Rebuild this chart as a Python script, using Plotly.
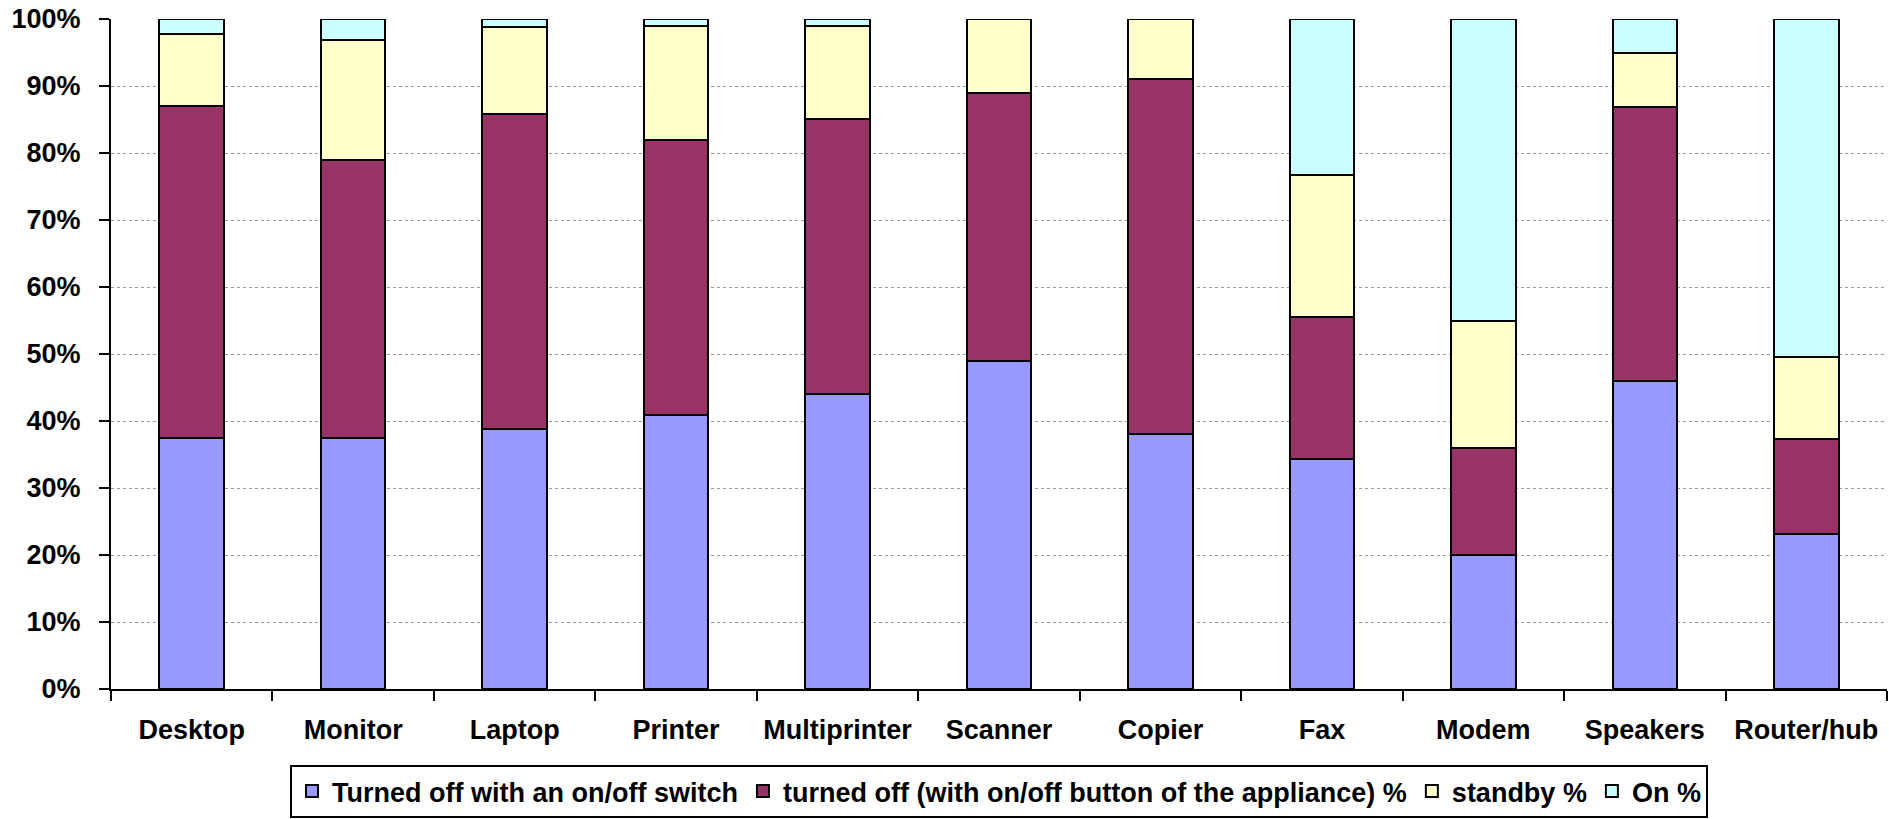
import plotly.graph_objects as go

categories = ["Desktop", "Monitor", "Laptop", "Printer", "Multiprinter", "Scanner",
              "Copier", "Fax", "Modem", "Speakers", "Router/hub"]
switch_off = [37.5, 37.5, 38.8, 40.9, 44.1, 49.0, 38.1, 34.4, 20.0, 45.9, 23.2]
button_off = [49.5, 41.5, 47.0, 41.0, 41.0, 40.0, 53.0, 21.1, 16.0, 41.0, 14.1]
standby = [10.8, 17.9, 13.0, 17.0, 13.8, 11.0, 8.9, 21.2, 19.0, 8.1, 12.2]
on = [2.2, 3.1, 1.2, 1.1, 1.1, 0.0, 0.0, 23.3, 45.0, 5.0, 50.5]
y_ticks = [0, 10, 20, 30, 40, 50, 60, 70, 80, 90, 100]
y_tick_labels = ["0%", "10%", "20%", "30%", "40%", "50%", "60%", "70%", "80%", "90%", "100%"]

series = [
    ("Turned off with an on/off switch", switch_off, "#9999FF"),
    ("turned off (with on/off button of the appliance) %", button_off, "#993366"),
    ("standby %", standby, "#FFFFCC"),
    ("On %", on, "#CCFFFF"),
]

FONT = "Liberation Sans, Arial, sans-serif"

fig = go.Figure()
for name, vals, col in series:
    fig.add_trace(go.Bar(
        x=categories, y=vals, name=name,
        marker=dict(color=col, line=dict(color="black", width=2)),
    ))

fig.update_layout(
    barmode="stack",
    bargap=0.6,
    width=1889, height=819,
    margin=dict(l=111, r=2, t=19, b=130, autoexpand=False),
    paper_bgcolor="white",
    plot_bgcolor="white",
    font=dict(family=FONT, size=27, color="black", weight="bold"),
    showlegend=True,
    legend=dict(
        orientation="h",
        x=0.5, xanchor="center", xref="paper",
        y=0.066, yanchor="top", yref="container",
        bordercolor="black", borderwidth=2,
        font=dict(family=FONT, size=27, color="black", weight="bold"),
        itemwidth=30,
        traceorder="normal",
    ),
)

fig.update_xaxes(
    showline=True, linecolor="black", linewidth=2,
    ticks="outside", tickson="boundaries", ticklen=10, tickwidth=2, tickcolor="black",
    showgrid=False,
    tickfont=dict(family=FONT, size=27, color="black", weight="bold"),
    ticklabelstandoff=16,
)
fig.update_yaxes(
    range=[0, 100],
    tickmode="array",
    tickvals=y_ticks,
    ticktext=y_tick_labels,
    showline=True, linecolor="black", linewidth=2,
    ticks="outside", ticklen=10, tickwidth=2, tickcolor="black",
    showgrid=True, gridcolor="#999999", gridwidth=1, griddash="dot",
    zeroline=False,
    tickfont=dict(family=FONT, size=27, color="black", weight="bold"),
    ticklabelstandoff=13,
)

fig.write_html(
    "out.html",
    config={"displayModeBar": False},
    post_script="document.body.style.margin='0';document.body.style.padding='0';"
                "document.documentElement.style.overflow='hidden';",
)
